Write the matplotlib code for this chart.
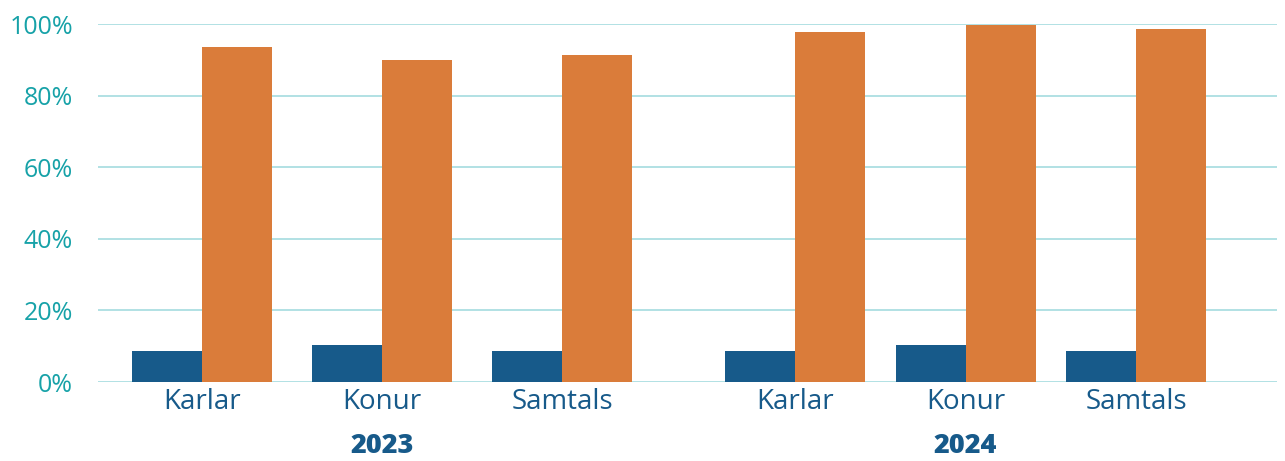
import numpy as np
import matplotlib.pyplot as plt
from matplotlib.ticker import FuncFormatter
import matplotlib.transforms as mtransforms

# ── Data ──────────────────────────────────────────────────────────────────────
years = ["2023", "2024"]
categories = ["Karlar", "Konur", "Samtals"]
blue_2023 = [8.6, 10.3, 8.6]
orange_2023 = [93.6, 89.9, 91.3]
blue_2024 = [8.6, 10.3, 8.6]
orange_2024 = [97.8, 99.7, 98.6]

# ── Layout (pixel-like units along the x axis) ────────────────────────────────
group_start = [202, 795]
group_step = [180, 170.5]
bar_w = 70

BLUE = "#175A8A"
ORANGE = "#DA7C3A"
TEAL = "#17A2A8"
GRID = "#A4DCDF"
FONT = "Open Sans"

fig = plt.figure(figsize=(12.85, 4.61), dpi=100)
ax = fig.add_axes([98 / 1285, 1 - 382 / 461, (1277 - 98) / 1285, (382 - 24) / 461])

blues = [blue_2023, blue_2024]
oranges = [orange_2023, orange_2024]
centers = []
for g in range(len(years)):
    x = group_start[g] + group_step[g] * np.arange(len(categories))
    centers.extend(x)
    ax.bar(x - bar_w / 2, blues[g], bar_w, color=BLUE, zorder=3)
    ax.bar(x + bar_w / 2, oranges[g], bar_w, color=ORANGE, zorder=3)

ax.set_xlim(98, 1277)
ax.set_ylim(0, 100)
ax.set_yticks(np.arange(0, 101, 20))
ax.yaxis.set_major_formatter(FuncFormatter(lambda v, p: f"{v:.0f}%"))
ax.grid(axis="y", color=GRID, linewidth=1.2, zorder=0)
for s in ax.spines.values():
    s.set_visible(False)

ax.set_xticks(centers)
ax.set_xticklabels(categories * len(years))
ax.tick_params(axis="both", length=0)
ax.tick_params(axis="y", labelcolor=TEAL, labelsize=18, pad=18)
ax.tick_params(axis="x", labelcolor=BLUE, labelsize=20, pad=4)
for lbl in ax.get_yticklabels() + ax.get_xticklabels():
    lbl.set_fontfamily(FONT)

trans = mtransforms.blended_transform_factory(ax.transData, ax.transAxes)
for g, yr in enumerate(years):
    xc = group_start[g] + group_step[g]
    ax.text(xc, -0.18, yr, transform=trans, ha="center", va="center",
            fontsize=19.5, fontweight="heavy", color=BLUE, fontfamily=FONT)

fig.savefig("out.png", dpi=100)
